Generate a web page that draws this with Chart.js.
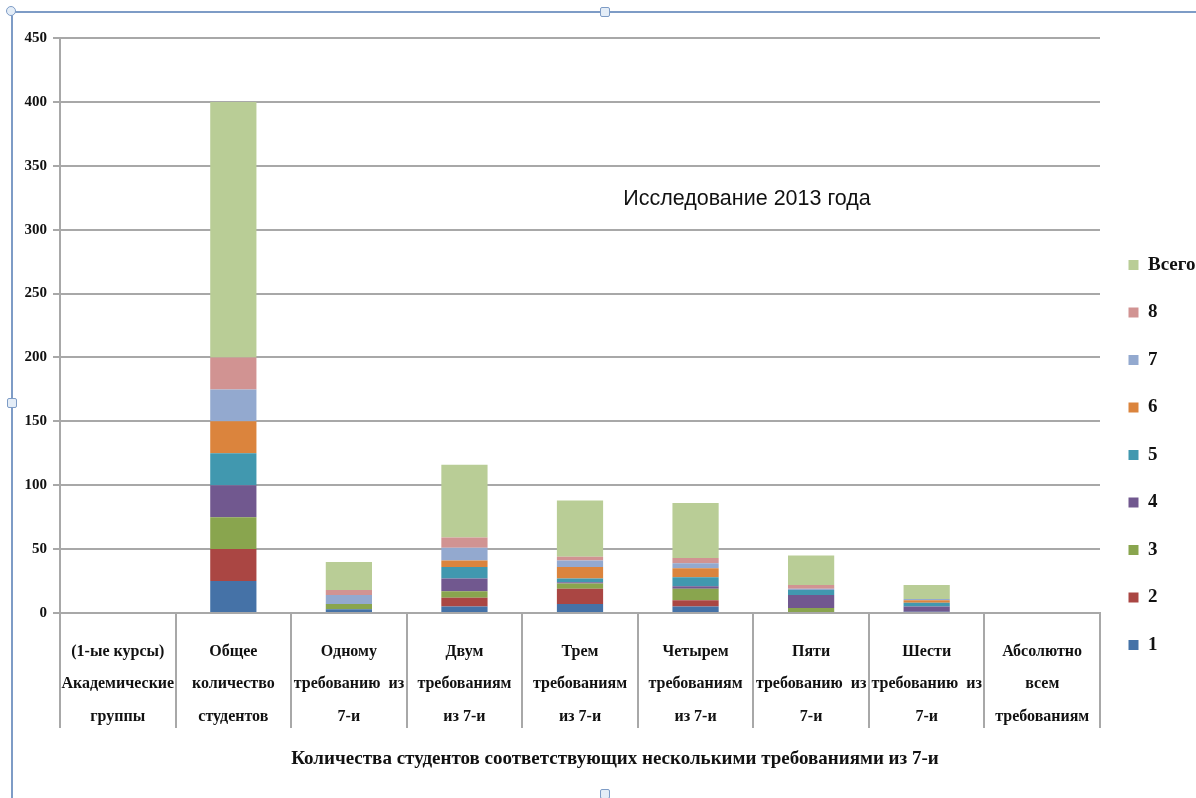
<!DOCTYPE html>
<html>
<head>
<meta charset="utf-8">
<script src="https://cdn.jsdelivr.net/npm/chart.js@4.4.0/dist/chart.umd.min.js"></script>
<style>
  html, body { margin: 0; padding: 0; background: #fff; }
  #wrap { position: relative; width: 1196px; height: 798px; overflow: hidden; }
  canvas { display: block; }
  .ln { position: absolute; background: #7e9cc6; }
  .hd { position: absolute; width: 8px; height: 8px; background: #e4edf7; border: 1px solid #7e9cc6; border-radius: 2px; }
</style>
</head>
<body>
<div id="wrap">
  <canvas id="c" width="1196" height="798"></canvas>
  <div class="ln" style="left:12px;top:11px;width:1184px;height:2px"></div>
  <div class="ln" style="left:11px;top:12px;width:2px;height:786px"></div>
  <div class="hd" style="left:6px;top:6px;border-radius:6px"></div>
  <div class="hd" style="left:600px;top:7px"></div>
  <div class="hd" style="left:7px;top:398px"></div>
  <div class="hd" style="left:600px;top:789px"></div>
</div>
<script>
// categories (x axis, 3-line labels)
const categories = [
  ['(1-ые курсы)', 'Академические', 'группы'],
  ['Общее', 'количество', 'студентов'],
  ['Одному', 'требованию  из', '7-и'],
  ['Двум', 'требованиям', 'из 7-и'],
  ['Трем', 'требованиям', 'из 7-и'],
  ['Четырем', 'требованиям', 'из 7-и'],
  ['Пяти', 'требованию  из', '7-и'],
  ['Шести', 'требованию  из', '7-и'],
  ['Абсолютно', 'всем', 'требованиям']
];

// stacked series, bottom to top
const s1 = [0, 25, 3, 5, 7, 5, 0, 1, 0];
const s2 = [0, 25, 0, 7, 12, 5, 0, 0, 0];
const s3 = [0, 25, 4, 5, 4, 9, 4, 0, 0];
const s4 = [0, 25, 0, 10, 1, 2, 10, 4, 0];
const s5 = [0, 25, 0, 9, 3, 7, 4, 3, 0];
const s6 = [0, 25, 0, 5, 9, 7, 0, 2, 0];
const s7 = [0, 25, 7, 10, 5, 4, 1, 1, 0];
const s8 = [0, 25, 4, 8, 3, 4, 3, 0, 0];
const sTotal = [0, 200, 22, 57, 44, 43, 23, 11, 0];

const seriesNames = ['1', '2', '3', '4', '5', '6', '7', '8', 'Всего'];
const seriesData = [s1, s2, s3, s4, s5, s6, s7, s8, sTotal];
const seriesColors = ['#4572a7', '#aa4643', '#89a54e', '#71588f', '#4198af', '#db843d', '#93a9cf', '#d19392', '#b9cd96'];

const yTicks = [0, 50, 100, 150, 200, 250, 300, 350, 400, 450];

const chartTitle = 'Исследование 2013 года';
const axisTitle = 'Количества студентов соответствующих несколькими требованиями из 7-и';

const SERIF = '"Liberation Serif", "Times New Roman", serif';
const GRID = '#a8a8a8';

const datasets = seriesNames.map((name, i) => ({
  label: name,
  data: seriesData[i],
  backgroundColor: seriesColors[i],
  borderWidth: 0,
  barPercentage: 0.4,
  categoryPercentage: 1
}));

// free text: title inside the plot and the x axis caption
const notes = {
  id: 'notes',
  afterDraw(chart) {
    const c = chart.ctx;
    c.save();
    c.fillStyle = '#111';
    c.textAlign = 'center';
    c.textBaseline = 'middle';
    c.font = '21.5px "Liberation Sans", Arial, sans-serif';
    c.fillText(chartTitle, 747, 199);
    c.font = 'bold 19px ' + SERIF;
    c.fillText(axisTitle, 615, 759);
    c.restore();
  }
};

new Chart(document.getElementById('c').getContext('2d'), {
  type: 'bar',
  data: { labels: categories, datasets },
  plugins: [notes],
  options: {
    responsive: false,
    animation: false,
    layout: { padding: { top: 38, left: 0, right: 0, bottom: 0 } },
    plugins: {
      tooltip: { enabled: false },
      legend: {
        position: 'right',
        reverse: true,
        maxWidth: 96,
        title: { display: true, text: ' ', padding: { top: 64, bottom: 0 }, font: { size: 10, lineHeight: 1 } },
        labels: {
          boxWidth: 10,
          boxHeight: 10,
          padding: 28.5,
          color: '#111',
          font: { family: SERIF, weight: 'bold', size: 19 }
        }
      }
    },
    scales: {
      x: {
        stacked: true,
        offset: true,
        grid: { offset: true, drawOnChartArea: false, drawTicks: true, tickLength: 115, color: GRID, lineWidth: 2 },
        border: { display: true, color: GRID, width: 2 },
        ticks: {
          autoSkip: false, maxRotation: 0, minRotation: 0,
          padding: -93,
          color: '#111',
          font: { family: SERIF, weight: 'bold', size: 16, lineHeight: 2.05 }
        },
        afterFit(s) { s.height = 185; }
      },
      y: {
        stacked: true,
        min: 0,
        max: 450,
        afterBuildTicks(s) { s.ticks = yTicks.map(v => ({ value: v })); },
        grid: { color: GRID, lineWidth: 2, tickLength: 7 },
        border: { display: true, color: GRID, width: 2 },
        ticks: { padding: 6, color: '#111', font: { family: SERIF, weight: 'bold', size: 15 } },
        afterFit(s) { s.width = 60; }
      }
    }
  }
});
</script>
</body>
</html>
